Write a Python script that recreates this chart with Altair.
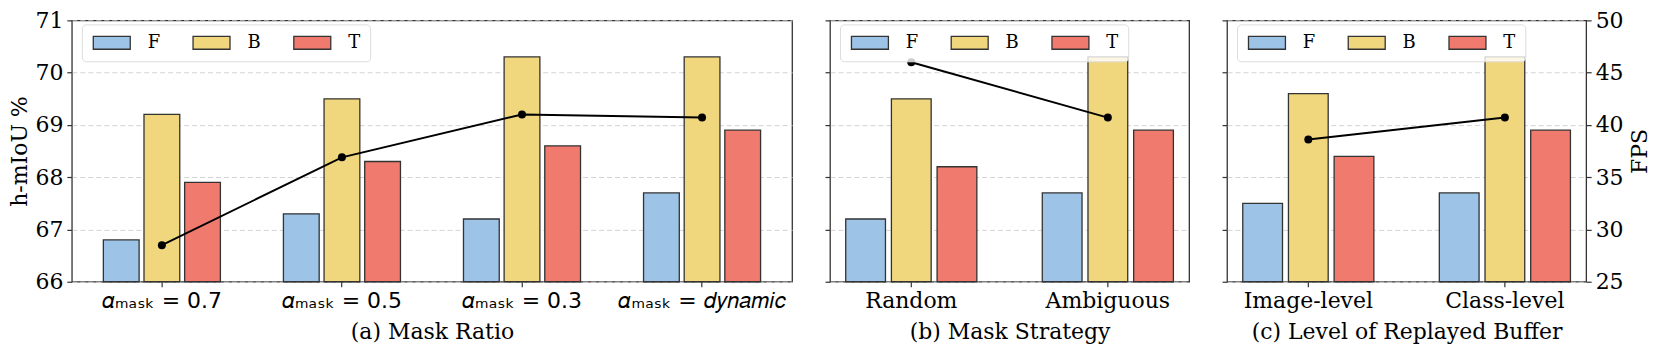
import altair as alt
import pandas as pd

series = ["F", "B", "T"]
colors = ["#9DC3E6", "#F0D77D", "#F07A6E"]

h_ticks = [66, 67, 68, 69, 70, 71]
fps_ticks = [25, 30, 35, 40, 45, 50]

# (a) Mask Ratio
a_cats = ["𝛼ₘₐₛₖ = 0.7", "𝛼ₘₐₛₖ = 0.5", "𝛼ₘₐₛₖ = 0.3", "𝛼ₘₐₛₖ = 𝑑𝑦𝑛𝑎𝑚𝑖𝑐"]
a_F = [66.8, 67.3, 67.2, 67.7]
a_B = [69.2, 69.5, 70.3, 70.3]
a_T = [67.9, 68.3, 68.6, 68.9]
a_fps = [28.5, 36.9, 41.0, 40.7]

# (b) Mask Strategy
b_cats = ["Random", "Ambiguous"]
b_F = [67.2, 67.7]
b_B = [69.5, 70.3]
b_T = [68.2, 68.9]
b_fps = [46.0, 40.7]

# (c) Level of Replayed Buffer
c_cats = ["Image-level", "Class-level"]
c_F = [67.5, 67.7]
c_B = [69.6, 70.3]
c_T = [68.4, 68.9]
c_fps = [38.6, 40.7]

SERIF = "DejaVu Serif"
PLOT_H = 262


def make_panel(cats, F, B, T, fps, width, pin, pout, opad, subtitle,
               label_font, left_labels, show_right):
    df = pd.DataFrame({
        "cat": [c for c in cats for _ in series],
        "series": series * len(cats),
        "value": [v for trip in zip(F, B, T) for v in trip],
    })
    line_df = pd.DataFrame({"cat": cats, "fps": fps})

    xaxis = alt.Axis(title=subtitle, labelAngle=0, labelFont=label_font,
                     labelPadding=4, titlePadding=10)
    left_axis = alt.Axis(values=h_ticks, grid=True, labels=left_labels,
                         title="h-mIoU %" if left_labels else None,
                         labelPadding=4, titlePadding=3)
    legend = alt.Legend(
        title=None, orient="none", legendX=10, legendY=4,
        direction="horizontal", columns=3,
        symbolType="M-1,-1L4.7,-1L4.7,1L-1,1Z",
        symbolSize=169, symbolStrokeColor="#333", symbolStrokeWidth=1.3,
        symbolOpacity=1, labelFont=SERIF, labelFontSize=18, labelOffset=39,
        columnPadding=29, padding=9, strokeColor="#dcdcdc",
        fillColor="rgba(255,255,255,0.8)", cornerRadius=4, labelColor="black",
    )

    bars = alt.Chart(df).mark_bar(stroke="#333", strokeWidth=1.3).encode(
        x=alt.X("cat:N", sort=cats,
                scale=alt.Scale(paddingInner=pin, paddingOuter=pout),
                axis=xaxis),
        xOffset=alt.XOffset("series:N", sort=series,
                            scale=alt.Scale(paddingInner=opad, paddingOuter=0)),
        y=alt.Y("value:Q", scale=alt.Scale(domain=[66, 71], zero=False, nice=False),
                axis=left_axis),
        y2=alt.datum(66),
        color=alt.Color("series:N", sort=series,
                        scale=alt.Scale(domain=series, range=colors),
                        legend=legend),
    )

    if show_right:
        right_axis = alt.Axis(orient="right", values=fps_ticks, grid=False,
                              title="FPS", titleAngle=270, titleBaseline="top",
                              labelPadding=4, titlePadding=6)
    else:
        right_axis = None

    line = alt.Chart(line_df).mark_line(
        color="black", strokeWidth=2,
        point=alt.OverlayMarkDef(filled=True, color="black", size=64),
    ).encode(
        x=alt.X("cat:N", sort=cats),
        y=alt.Y("fps:Q", scale=alt.Scale(domain=[25, 50], zero=False, nice=False),
                axis=right_axis),
    )

    return alt.layer(bars, line).resolve_scale(y="independent").properties(
        width=width, height=PLOT_H)


pa = make_panel(a_cats, a_F, a_B, a_T, a_fps, 722, 0.35, 0.175, 0.12,
                "(a) Mask Ratio", "DejaVu Sans", True, False)
pb = make_panel(b_cats, b_F, b_B, b_T, b_fps, 360, 0.333, 0.08, 0.13,
                "(b) Mask Strategy", SERIF, False, False)
pc = make_panel(c_cats, c_F, c_B, c_T, c_fps, 360, 0.333, 0.08, 0.13,
                "(c) Level of Replayed Buffer", SERIF, False, True)

chart = alt.hconcat(pa, pb, pc, spacing=38, bounds="flush").resolve_scale(
    color="independent", xOffset="independent", x="independent"
).properties(
    padding={"left": 0, "top": 0, "right": 2, "bottom": 0}
).configure(
    font=SERIF
).configure_view(
    stroke="#333", strokeWidth=1.3
).configure_axis(
    domain=False, tickColor="#333", tickSize=5, tickWidth=1.2,
    labelColor="black", titleColor="black", labelFontSize=22,
    titleFontSize=22, titleFontWeight="normal", labelFont=SERIF,
    titleFont=SERIF, gridColor="#d3d3d3", gridDash=[5, 3], gridWidth=1,
)

chart.save("out.html", embed_options={"renderer": "svg", "actions": False})
